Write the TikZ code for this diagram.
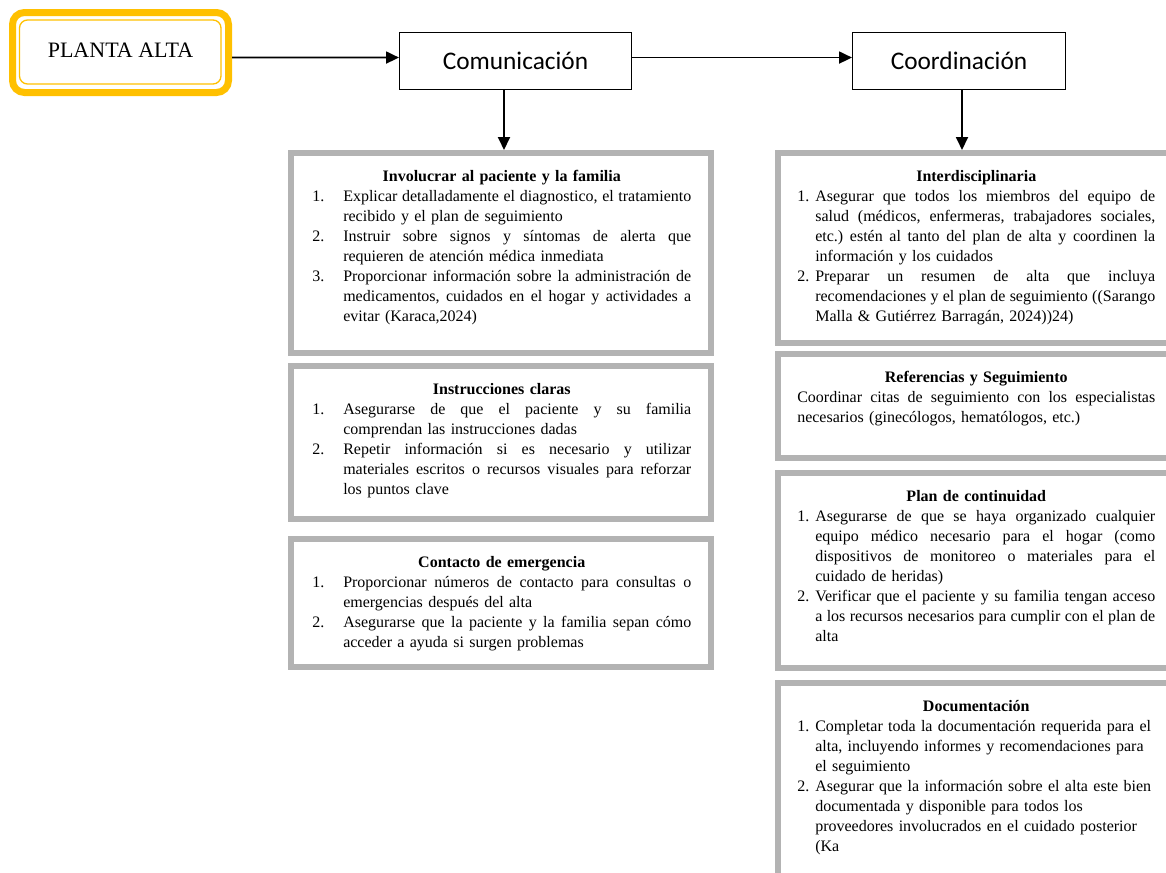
\documentclass[tikz,border=0pt]{standalone}
\usepackage{fontspec}
\setmainfont{Liberation Serif}
\newfontfamily\calfont{Carlito}
\usetikzlibrary{arrows.meta,positioning}
\frenchspacing

\definecolor{boxgray}{RGB}{179,179,179}
\definecolor{altayellow}{RGB}{255,192,0}

\newlength{\hw}
\newlength{\jw}
% justified line, next line of an item, title line, item number
\newcommand{\jl}[1]{\hbox to \jw{\spaceskip=.25em plus 2em minus .05em #1}}
\newcommand{\sg}{\\\hspace*{\hw}}
\newcommand{\titulo}[1]{\noindent\makebox[\hsize]{\strut\textbf{#1}}\par}
\newcommand{\num}[1]{\par\noindent\makebox[\hw][l]{#1}}

\begin{document}
\begin{tikzpicture}[x=0.75pt,y=-0.75pt,
    gbox/.style={draw=boxgray,line width=4.5pt,fill=white,anchor=north west,inner sep=0pt},
    tbox/.style={draw,line width=1pt,anchor=north west,inner sep=0pt,font=\calfont\fontsize{19}{23}\selectfont},
    ltxt/.style={anchor=north west,inner sep=0pt,text width=284.25pt,font=\fontsize{12}{15}\selectfont,
        execute at begin node={\setlength{\hw}{23.25pt}\setlength{\jw}{261pt}}},
    rtxt/.style={anchor=north west,inner sep=0pt,text width=268.5pt,font=\fontsize{12}{15}\selectfont,
        execute at begin node={\setlength{\hw}{13.5pt}\setlength{\jw}{255pt}}},
    arr/.style={line width=1.4pt,-{Triangle[length=9.75pt,width=9pt]}}]
    \useasboundingbox (0,0) rectangle (1166,872);
    \clip (0,0) rectangle (1166,872);

    \node[draw=altayellow,line width=5.25pt,rounded corners=9pt,anchor=north west,inner sep=0pt,
        minimum width=162pt,minimum height=60pt,text depth=4pt,font=\fontsize{16.5}{20}\selectfont]
        (pa) at (9,9) {PLANTA ALTA};
    \draw[altayellow,line width=1pt,rounded corners=6pt]
        ([shift={(10.5,11)}]pa.north west) rectangle ([shift={(-11,-12)}]pa.south east);

    \node[tbox,minimum width=173.7pt,minimum height=42.5pt] (com) at (399,32) {Comunicación};
    \node[tbox,minimum width=159.5pt,minimum height=42.5pt] (coo) at (852,32) {Coordinación};

    % left column
    \node[gbox,minimum width=315pt,minimum height=150pt] (inv) at (288,150) {};
    \node[gbox,minimum width=315pt,minimum height=114.75pt] (ins) at (288,363) {};
    \node[gbox,minimum width=315pt,minimum height=96pt] (con) at (288,536) {};

    \node[ltxt] (invt) at ([shift={(24,17)}]inv.north west) {%
        \titulo{Involucrar al paciente y la familia}
        \num{1.}\jl{Explicar detalladamente el diagnostico, el tratamiento}\sg recibido y el plan de seguimiento
        \num{2.}\jl{Instruir sobre signos y síntomas de alerta que}\sg requieren de atención médica inmediata
        \num{3.}\jl{Proporcionar información sobre la administración de}\sg\jl{medicamentos, cuidados en el hogar y actividades a}\sg evitar (Karaca,2024)\par};
    \node[ltxt] (inst) at ([shift={(24,17)}]ins.north west) {%
        \titulo{Instrucciones claras}
        \num{1.}\jl{Asegurarse de que el paciente y su familia}\sg comprendan las instrucciones dadas
        \num{2.}\jl{Repetir información si es necesario y utilizar}\sg\jl{materiales escritos o recursos visuales para reforzar}\sg los puntos clave\par};
    \node[ltxt] (cont) at ([shift={(24,17)}]con.north west) {%
        \titulo{Contacto de emergencia}
        \num{1.}\jl{Proporcionar números de contacto para consultas o}\sg emergencias después del alta
        \num{2.}\jl{Asegurarse que la paciente y la familia sepan cómo}\sg acceder a ayuda si surgen problemas\par};

    % right column
    \node[gbox,minimum width=297pt,minimum height=142.5pt] (int) at (775,150) {};
    \node[gbox,minimum width=297pt,minimum height=78pt] (ref) at (775,351) {};
    \node[gbox,minimum width=297pt,minimum height=146.25pt] (pla) at (775,470) {};
    \node[gbox,minimum width=297pt,minimum height=150pt] (doc) at (775,680) {};

    \node[rtxt] (intt) at ([shift={(22,17)}]int.north west) {%
        \titulo{Interdisciplinaria}
        \num{1.}\jl{Asegurar que todos los miembros del equipo de}\sg\jl{salud (médicos, enfermeras, trabajadores sociales,}\sg\jl{etc.) estén al tanto del plan de alta y coordinen la}\sg información y los cuidados
        \num{2.}\jl{Preparar un resumen de alta que incluya}\sg\jl{recomendaciones y el plan de seguimiento ((Sarango}\sg Malla \& Gutiérrez Barragán, 2024))24)\par};
    \node[rtxt] (reft) at ([shift={(22,17)}]ref.north west) {%
        \titulo{Referencias y Seguimiento}
        \noindent\hbox to \hsize{\spaceskip=.25em plus 2em minus .05em Coordinar citas de seguimiento con los especialistas}\\necesarios (ginecólogos, hematólogos, etc.)\par};
    \node[rtxt] (plat) at ([shift={(22,17)}]pla.north west) {%
        \titulo{Plan de continuidad}
        \num{1.}\jl{Asegurarse de que se haya organizado cualquier}\sg\jl{equipo médico necesario para el hogar (como}\sg\jl{dispositivos de monitoreo o materiales para el}\sg cuidado de heridas)
        \num{2.}\jl{Verificar que el paciente y su familia tengan acceso}\sg\jl{a los recursos necesarios para cumplir con el plan de}\sg alta\par};
    \node[rtxt] (doct) at ([shift={(22,17)}]doc.north west) {%
        \titulo{Documentación}
        \num{1.}Completar toda la documentación requerida para el\sg alta, incluyendo informes y recomendaciones para\sg el seguimiento
        \num{2.}Asegurar que la información sobre el alta este bien\sg documentada y disponible para todos los\sg proveedores involucrados en el cuidado posterior\sg (Ka\par};

    % connectors
    \draw[arr] ([yshift=-3.75pt]pa.east) -- ([yshift=2.6pt]com.west);
    \draw[arr] ([yshift=2.6pt]com.east) -- ([yshift=2.6pt]coo.west);
    \draw[arr] ([xshift=-8.6pt]com.south) coordinate (c1) -- (c1 |- inv.north);
    \draw[arr] ([xshift=2.25pt]coo.south) coordinate (c2) -- (c2 |- int.north);
\end{tikzpicture}
\end{document}
